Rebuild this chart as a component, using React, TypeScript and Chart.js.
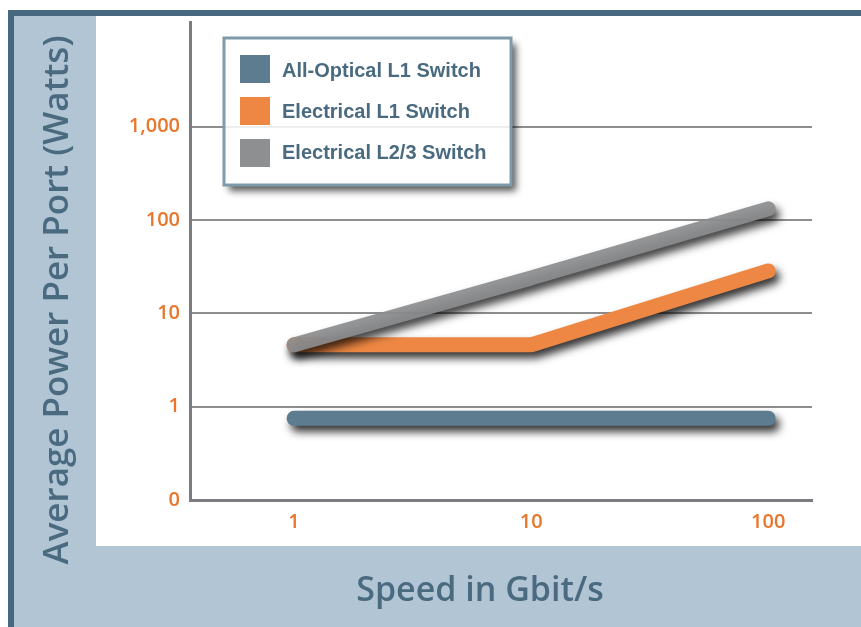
import { useEffect, useRef } from "react";
import { Chart, registerables } from "chart.js";

Chart.register(...registerables);

const speeds = [1, 10, 100];
const xTickLabels = ["1", "10", "100"];
const yTickValues = [0.1, 1, 10, 100, 1000];
const yTickLabels = ["0", "1", "10", "100", "1,000"];
const seriesNames = ["All-Optical L1 Switch", "Electrical L1 Switch", "Electrical L2/3 Switch"];
const allOptical = [0.75, 0.75, 0.75];
const electricalL1 = [4.6, 4.6, 28.5];
const electricalL23 = [4.6, 24, 132];
const lineColors = ["#5d7c90", "#ee8743", "rgba(140,141,143,0.92)"];
const swatchColors = ["#5d7c90", "#ee8743", "#8e8f91"];
const yTitle = "Average Power Per Port (Watts)";
const xTitle = "Speed in Gbit/s";

const TITLE_COLOR = "#4a6a80";
const TICK_COLOR = "#e8762c";
const FONT = '"Open Sans", "Liberation Sans", sans-serif';

const framePlugin = {
  id: "frame",
  beforeDraw(chart: any) {
    const { ctx, width, height } = chart;
    ctx.save();
    ctx.fillStyle = "#ffffff";
    ctx.fillRect(0, 0, width, height);
    ctx.fillStyle = "#b2c5d4";
    ctx.fillRect(8, 10, width - 8, height - 10);
    ctx.fillStyle = "#47697f";
    ctx.fillRect(8, 10, width - 8, 6);
    ctx.fillRect(8, 10, 6, height - 10);
    ctx.fillStyle = "#ffffff";
    ctx.fillRect(96, 16, width - 96, 530);
    ctx.restore();
  },
};

const shadowPlugin = {
  id: "lineShadow",
  beforeDatasetDraw(chart: any) {
    const c = chart.ctx;
    c.save();
    c.shadowColor = "rgba(0,0,0,0.8)";
    c.shadowBlur = 8;
    c.shadowOffsetX = 4;
    c.shadowOffsetY = 6;
  },
  afterDatasetDraw(chart: any) {
    chart.ctx.restore();
  },
};

const decorPlugin = {
  id: "decor",
  afterDraw(chart: any) {
    const { ctx, width, height } = chart;
    // axis titles
    ctx.save();
    ctx.fillStyle = TITLE_COLOR;
    ctx.font = `600 34px ${FONT}`;
    ctx.textAlign = "center";
    ctx.textBaseline = "alphabetic";
    ctx.fillText(xTitle, 480, 601);
    ctx.font = `600 35px ${FONT}`;
    ctx.translate(68, 300);
    ctx.rotate(-Math.PI / 2);
    ctx.fillText(yTitle, 0, 0);
    ctx.restore();

    // legend
    const bx = 224, by = 38, bw = 287, bh = 147;
    ctx.save();
    ctx.beginPath();
    ctx.rect(0, 0, width, height);
    ctx.rect(bx, by, bw, bh);
    ctx.clip("evenodd");
    ctx.shadowColor = "rgba(0,0,0,0.65)";
    ctx.shadowBlur = 7;
    ctx.shadowOffsetX = 5;
    ctx.shadowOffsetY = 6;
    ctx.fillStyle = "#ffffff";
    ctx.fillRect(bx, by, bw, bh);
    ctx.restore();

    ctx.save();
    ctx.fillStyle = "rgba(255,255,255,0.85)";
    ctx.fillRect(bx, by, bw, bh);
    ctx.strokeStyle = "#7f9bab";
    ctx.lineWidth = 3;
    ctx.strokeRect(bx, by, bw, bh);
    ctx.font = `bold 20px "Liberation Sans", Arial, sans-serif`;
    ctx.textBaseline = "middle";
    ctx.textAlign = "left";
    chart.data.datasets.forEach((ds: any, i: number) => {
      ctx.fillStyle = swatchColors[i];
      ctx.fillRect(240, 55 + i * 42, 30, 28);
      ctx.fillStyle = TITLE_COLOR;
      ctx.fillText(ds.label, 282, 71 + i * 41);
    });
    ctx.restore();
  },
};

export default function App() {
  const ref = useRef<HTMLCanvasElement>(null);

  useEffect(() => {
    if (!ref.current) return;
    const series = [allOptical, electricalL1, electricalL23];
    const chart = new Chart(ref.current, {
      type: "line",
      data: {
        datasets: series.map((vals, i) => ({
          label: seriesNames[i],
          data: speeds.map((s, j) => ({ x: s, y: vals[j] })),
          borderColor: lineColors[i],
          backgroundColor: lineColors[i],
          borderWidth: 15,
          borderCapStyle: "round" as const,
          borderJoinStyle: "bevel" as const,
          pointRadius: 0,
          tension: 0,
          fill: false,
          order: 2 - i,
        })),
      },
      options: {
        animation: false,
        responsive: false,
        devicePixelRatio: 1,
        layout: { padding: { left: 0, top: 21, right: 49, bottom: 0 } },
        plugins: {
          legend: { display: false },
          tooltip: { enabled: false },
          title: { display: false },
        },
        scales: {
          x: {
            type: "logarithmic",
            min: 0.364,
            max: 153,
            afterBuildTicks: (s: any) => {
              s.ticks = speeds.map((v) => ({ value: v }));
            },
            afterFit: (s: any) => {
              s.height = 127;
            },
            grid: { display: false, drawTicks: false },
            border: { display: true, color: "#7b7b80", width: 3 },
            ticks: {
              color: TICK_COLOR,
              font: { family: FONT, size: 20, weight: "600" },
              padding: 10,
              autoSkip: false,
              maxRotation: 0,
              callback: (v: any) => {
                const k = speeds.indexOf(Number(v));
                return k >= 0 ? xTickLabels[k] : "";
              },
            },
          },
          y: {
            type: "logarithmic",
            min: 0.1,
            max: 13280,
            afterBuildTicks: (s: any) => {
              s.ticks = yTickValues.map((v) => ({ value: v }));
            },
            afterFit: (s: any) => {
              s.width = 190;
            },
            grid: { color: "#8e8e8e", lineWidth: 2, drawTicks: false },
            border: { display: true, color: "#7b7b80", width: 3 },
            ticks: {
              color: TICK_COLOR,
              font: { family: FONT, size: 20, weight: "600" },
              padding: 10,
              autoSkip: false,
              callback: (v: any) => {
                const k = yTickValues.indexOf(Number(v));
                return k >= 0 ? yTickLabels[k] : "";
              },
            },
          },
        },
      },
      plugins: [framePlugin, shadowPlugin, decorPlugin],
    } as any);
    return () => chart.destroy();
  }, []);

  return (
    <div style={{ position: "absolute", left: 0, top: 0, width: 861, height: 627 }}>
      <canvas ref={ref} width={861} height={627} style={{ display: "block" }} />
    </div>
  );
}
